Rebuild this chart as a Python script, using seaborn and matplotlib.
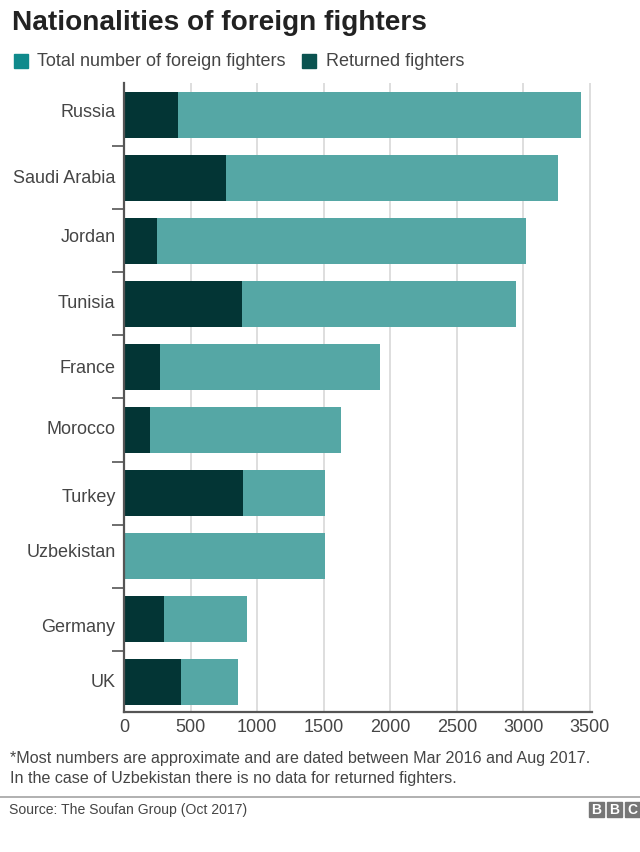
#!/usr/bin/env python

import matplotlib
matplotlib.use('Agg')
import matplotlib.pyplot as plt
from matplotlib.patches import Rectangle
import pandas as pd
import seaborn as sns

countries = ['Russia', 'Saudi Arabia', 'Jordan', 'Tunisia', 'France', 'Morocco',
             'Turkey', 'Uzbekistan', 'Germany', 'UK']
total_fighters = [3433, 3260, 3020, 2945, 1925, 1630, 1510, 1510, 925, 860]
returned_fighters = [405, 766, 248, 886, 270, 195, 894, 0, 300, 428]
x_ticks = [0, 500, 1000, 1500, 2000, 2500, 3000, 3500]

# country labels sit a bit off the bar centres in the original (in category units)
label_shift = [-0.04, 0.02, -0.05, 0.00, 0.03, 0.00, 0.07, -0.06, 0.13, 0.00]

TEAL = '#55a7a5'
DARK = '#033535'
LEGEND_TEAL = '#0f8a8c'
LEGEND_DARK = '#0b5350'
TEXT = '#454545'

W, H = 640, 852

sns.set_theme(style='white')
plt.rcParams['font.family'] = ['Liberation Sans', 'DejaVu Sans']

df = pd.DataFrame({'country': countries, 'total': total_fighters, 'returned': returned_fighters})

fig = plt.figure(figsize=(W / 100, H / 100), dpi=100)
ax = fig.add_axes([124 / W, 1 - 712 / H, (592 - 124) / W, (712 - 83) / H])

sns.barplot(data=df, y='country', x='total', color=TEAL, saturation=1, width=0.73,
            linewidth=0, edgecolor='none', ax=ax, zorder=3)
sns.barplot(data=df, y='country', x='returned', color=DARK, saturation=1, width=0.73,
            linewidth=0, edgecolor='none', ax=ax, zorder=4)

ax.set_xlim(0, 3516)
ax.set_ylim(9.47, -0.5)
ax.set_xlabel('')
ax.set_ylabel('')

ax.set_xticks(x_ticks)
ax.tick_params(axis='x', length=0, pad=5, labelsize=13, labelcolor=TEXT)
ax.xaxis.grid(True, color='#dedede', lw=1.4, zorder=0)
ax.set_axisbelow(True)

# separators between categories, labels placed by hand
ax.set_yticks([i + 0.5 for i in range(len(countries) - 1)])
ax.set_yticklabels([])
ax.tick_params(axis='y', left=True, length=9, width=1.2, color='#555555', direction='out')
for i, name in enumerate(countries):
    ax.text(-0.018, i + label_shift[i], name, transform=ax.get_yaxis_transform(),
            ha='right', va='center', fontsize=13, color=TEXT)

for side in ['top', 'right']:
    ax.spines[side].set_visible(False)
for side in ['left', 'bottom']:
    ax.spines[side].set_color('#555555')
    ax.spines[side].set_linewidth(1.6)
    ax.spines[side].set_zorder(5)

fig.text(12 / W, 1 - 23 / H, 'Nationalities of foreign fighters', fontsize=20.2,
         fontweight='bold', color='#222222', va='center')

# legend
fig.add_artist(Rectangle((14 / W, 1 - 68 / H), 14 / W, 14 / H, color=LEGEND_TEAL, transform=fig.transFigure))
fig.text(37 / W, 1 - 61 / H, 'Total number of foreign fighters', fontsize=13, color=TEXT, va='center')
fig.add_artist(Rectangle((302 / W, 1 - 68 / H), 14 / W, 14 / H, color=LEGEND_DARK, transform=fig.transFigure))
fig.text(326 / W, 1 - 61 / H, 'Returned fighters', fontsize=13, color=TEXT, va='center')

# footnote
fig.text(10 / W, 1 - 759 / H, '*Most numbers are approximate and are dated between Mar 2016 and Aug 2017.',
         fontsize=11.6, color=TEXT, va='center')
fig.text(10 / W, 1 - 778 / H, 'In the case of Uzbekistan there is no data for returned fighters.',
         fontsize=11.6, color=TEXT, va='center')

fig.add_artist(plt.Line2D([0, 1], [1 - 797 / H, 1 - 797 / H], color='#b0b0b0', lw=1.4))
fig.text(9 / W, 1 - 810 / H, 'Source: The Soufan Group (Oct 2017)', fontsize=10.1, color=TEXT, va='center')

# BBC blocks
for x0, letter in zip([589, 607, 625], 'BBC'):
    fig.add_artist(Rectangle((x0 / W, 1 - 817 / H), 15 / W, 15 / H, color='#767676', transform=fig.transFigure))
    fig.text((x0 + 7.5) / W, 1 - 809.5 / H, letter, fontsize=10, fontweight='bold', color='white',
             ha='center', va='center')

fig.savefig('out.png', dpi=100)
